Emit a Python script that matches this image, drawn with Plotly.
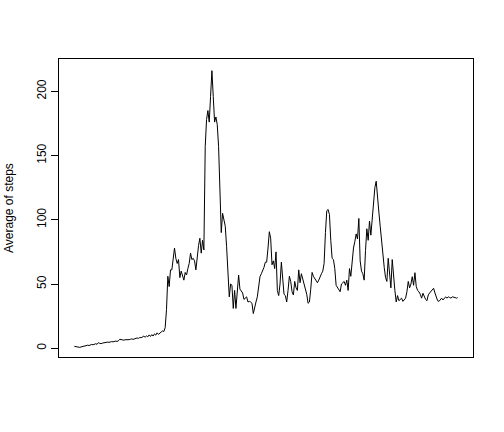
import plotly.graph_objects as go

# Average steps for each of the 288 five-minute intervals
avg_steps = [
    1.5, 1.2, 0.9, 0.8, 0.7, 1.0, 1.3, 1.8, 1.5, 2.0,
    2.4, 2.1, 2.6, 3.0, 2.7, 3.2, 3.5, 3.1, 4.4, 3.8,
    3.6, 4.0, 4.3, 4.1, 4.5, 4.8, 4.6, 5.0, 5.2, 5.0,
    5.4, 5.6, 5.3, 5.8, 7.0, 6.6, 6.4, 6.3, 6.6, 6.5,
    6.8, 6.7, 7.0, 7.3, 6.9, 7.4, 7.6, 8.0, 7.7, 8.4,
    8.2, 8.8, 9.4, 8.6, 9.6, 8.9, 10.4, 9.2, 10.6, 9.5,
    11.2, 10.2, 12.0, 10.8, 11.6, 12.6, 13.5, 13.0, 16.0, 30.0,
    56.0, 48.0, 61.0, 61.0, 70.0, 78.0, 70.0, 66.0, 69.0, 55.0,
    60.0, 57.0, 53.0, 59.0, 57.0, 62.0, 66.0, 74.0, 69.0, 70.0,
    68.0, 61.0, 72.0, 80.0, 85.6, 74.0, 84.0, 76.5, 157.0, 178.0,
    185.0, 176.0, 196.0, 216.0, 196.0, 176.0, 180.0, 174.0, 157.0, 125.0,
    90.0, 105.0, 100.0, 95.0, 79.0, 55.0, 40.0, 50.0, 49.0, 31.0,
    45.0, 31.0, 49.0, 57.0, 46.0, 44.0, 43.0, 38.0, 39.0, 40.0,
    36.0, 36.5, 36.0, 35.0, 27.0, 33.0, 36.0, 40.0, 48.0, 55.7,
    58.0, 60.0, 63.0, 67.0, 67.0, 78.0, 90.7, 85.6, 65.0, 68.0,
    62.0, 75.0, 45.0, 41.0, 50.0, 67.0, 50.0, 42.0, 41.0, 36.0,
    45.0, 56.0, 52.0, 44.0, 41.5, 52.0, 47.0, 45.0, 61.0, 51.0,
    58.0, 54.0, 49.0, 47.0, 42.0, 35.0, 36.0, 46.0, 59.0, 56.0,
    54.0, 52.0, 51.0, 53.0, 56.0, 58.0, 60.0, 66.0, 90.0, 107.0,
    108.0, 104.0, 84.0, 70.0, 69.0, 62.0, 49.0, 47.0, 45.0, 44.0,
    50.0, 51.0, 52.0, 49.0, 53.0, 45.0, 62.0, 56.0, 68.0, 78.0,
    83.0, 89.0, 85.0, 101.0, 68.0, 60.0, 58.0, 53.0, 76.0, 93.0,
    84.0, 99.0, 88.0, 101.0, 109.0, 125.0, 130.0, 114.0, 106.0, 95.0,
    83.0, 72.0, 63.0, 55.0, 52.0, 70.0, 58.0, 47.0, 69.0, 55.0,
    45.0, 36.0, 41.0, 37.0, 38.0, 39.0, 36.5, 38.0, 39.0, 44.0,
    52.0, 47.0, 50.0, 55.7, 49.0, 58.8, 48.0, 45.0, 44.0, 42.0,
    39.0, 42.8, 40.0, 38.0, 37.0, 41.5, 43.0, 44.5, 45.5, 46.7,
    43.0, 39.0, 37.0, 36.5, 38.0, 39.0, 37.6, 39.0, 40.0, 39.0,
    40.0, 39.5, 39.0, 40.0, 40.0, 39.5, 39.0, 39.4,
]
interval_index = list(range(1, len(avg_steps) + 1))
y_ticks = [0, 50, 100, 150, 200]
y_title = "Average of steps"

n = len(interval_index)
xpad = (n - 1) * 0.04

fig = go.Figure()
fig.add_trace(go.Scatter(
    x=interval_index, y=avg_steps, mode="lines",
    line=dict(color="black", width=1), hoverinfo="skip", showlegend=False,
))

fig.update_layout(
    width=504, height=432,
    margin=dict(l=59, r=31, t=59, b=75),
    paper_bgcolor="white", plot_bgcolor="white",
    font=dict(family="Liberation Sans, Arial, sans-serif", size=12, color="black"),
    xaxis=dict(
        range=[1 - xpad, n + xpad], showgrid=False, zeroline=False,
        showticklabels=False, ticks="", showline=True, linecolor="black",
        linewidth=1, mirror=True,
    ),
    yaxis=dict(
        range=[-6.8, 225.1], showgrid=False, zeroline=False,
        tickmode="array", tickvals=y_ticks, ticktext=[str(v) for v in y_ticks],
        ticks="outside", ticklen=7, tickcolor="black", tickwidth=1,
        tickangle=-90, showline=True, linecolor="black", linewidth=1, mirror=True,
        tickfont=dict(size=12, color="black"),
    ),
    annotations=[dict(
        text=y_title, xref="paper", yref="paper", x=0, y=0.5,
        xanchor="center", yanchor="middle", xshift=-50, textangle=-90,
        showarrow=False, font=dict(size=12, color="black"),
    )],
)

fig.write_html(
    "out.html",
    config={"displayModeBar": False, "staticPlot": True},
    post_script="document.body.style.margin='0';document.body.style.overflow='hidden';",
)
